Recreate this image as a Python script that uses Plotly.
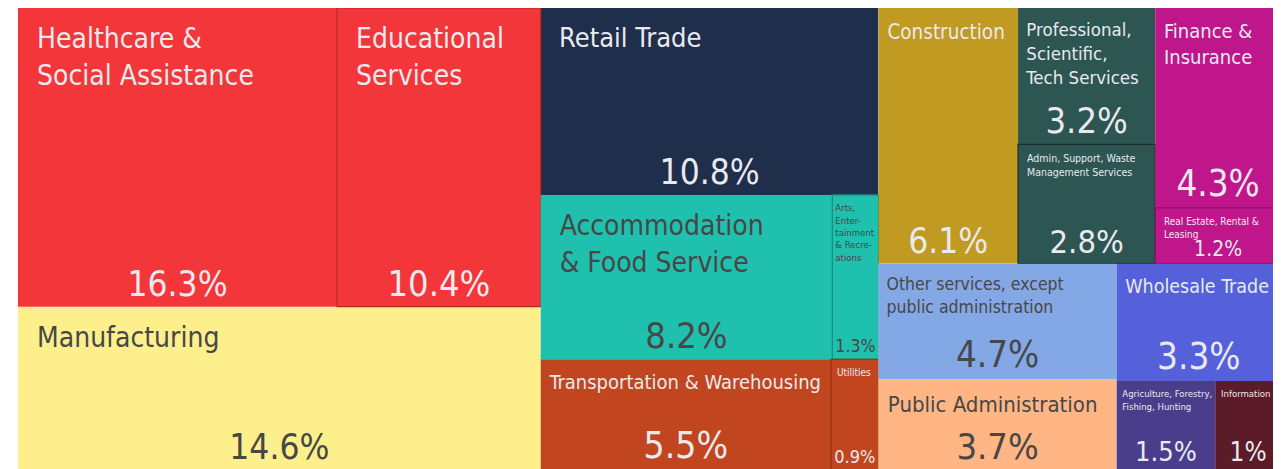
import plotly.graph_objects as go

# ---------------- data ----------------
sectors = [
    "Healthcare & Social Assistance", "Educational Services", "Manufacturing",
    "Retail Trade", "Accommodation & Food Service", "Arts, Entertainment & Recreations",
    "Transportation & Warehousing", "Utilities", "Construction",
    "Professional, Scientific, Tech Services", "Admin, Support, Waste Management Services",
    "Finance & Insurance", "Real Estate, Rental & Leasing",
    "Other services, except public administration", "Public Administration",
    "Wholesale Trade", "Agriculture, Forestry, Fishing, Hunting", "Information",
]
shares = [16.3, 10.4, 14.6, 10.8, 8.2, 1.3, 5.5, 0.9, 6.1,
          3.2, 2.8, 4.3, 1.2, 4.7, 3.7, 3.3, 1.5, 1.0]
tile_labels = [
    "Healthcare &<br>Social Assistance", "Educational<br>Services", "Manufacturing",
    "Retail Trade", "Accommodation<br>& Food Service", "Arts,<br>Enter-<br>tainment<br>& Recre-<br>ations",
    "Transportation & Warehousing", "Utilities", "Construction",
    "Professional,<br>Scientific,<br>Tech Services", "Admin, Support, Waste<br>Management Services",
    "Finance &<br>Insurance", "Real Estate, Rental &<br>Leasing",
    "Other services, except<br>public administration", "Public Administration",
    "Wholesale Trade", "Agriculture, Forestry,<br>Fishing, Hunting", "Information",
]

# grouping used to arrange the tiles (indices into sectors)
tree = ("all", [
    ("L", [("LT", [0, 1]), 2]),
    ("M", [3, ("MM", [4, 5]), ("MB", [6, 7])]),
    ("R", [("RT", [8, ("RTP", [9, 10]), ("RTF", [11, 12])]),
           ("RB", [("RBO", [13, 14]), ("RBW", [15, ("RBWA", [16, 17])])])]),
])

# ---------------- styles ----------------
tile_colors = ["#F3363A", "#F3363A", "#FCEF8C", "#1F2E4B", "#20C0AE", "#20C0AE",
               "#C1461F", "#C1461F", "#C19A21", "#2D5653", "#2D5653", "#C0168C",
               "#C0168C", "#84A8E6", "#FFB584", "#5461DB", "#4A3E8C", "#5B1B28"]
# thin darker divider drawn on the second tile of same-coloured pairs
divider = {1: "#B8262B", 5: "#138A7D", 7: "#93300F", 10: "#17302D", 12: "#8A0E66"}
LIGHT, DARK = "#E9E9EE", "#474747"
dark_text = {2, 4, 5, 13, 14}
label_sizes = [28, 28, 28, 27, 28, 9.5, 20, 10, 20.5, 18.5, 10.5, 20, 10, 17.5, 22, 19.5, 9.5, 9.5]
pct_sizes = [35, 36, 35, 35, 36, 18, 37, 18, 35, 36, 32.5, 36.5, 21, 36.5, 36, 36.5, 27, 26]
left_pad = [2, 2, 2, 2, 2, 0, 1, 1, 1, 1, 2, 1, 2, 1, 1, 1, 1, 1]

FONT = "DejaVu Sans Condensed, DejaVu Sans, sans-serif"

ids, parents, values, lab_txt, pct_txt = [], [], [], [], []
colors, tcolors, lsize, psize, lcol, lwid = [], [], [], [], [], []


def walk(node, parent):
    if isinstance(node, tuple):
        gid, kids = node
        ids.append(gid); parents.append(parent); values.append(0)
        lab_txt.append(""); pct_txt.append("")
        colors.append("#FFFFFF"); tcolors.append(LIGHT)
        lsize.append(10); psize.append(10)
        lcol.append("rgba(0,0,0,0)"); lwid.append(0)
        for k in kids:
            walk(k, gid)
    else:
        i = node
        ids.append(sectors[i]); parents.append(parent); values.append(shares[i])
        pad = "\u00a0" * left_pad[i]
        lines = tile_labels[i].split("<br>")
        lab_txt.append('<span style="font-size:1px">\u00a0</span><br>'
                       + "<br>".join(pad + ln for ln in lines))
        pct_txt.append(f"{shares[i]:g}%")
        colors.append(tile_colors[i])
        tcolors.append(DARK if i in dark_text else LIGHT)
        lsize.append(label_sizes[i]); psize.append(pct_sizes[i])
        lcol.append(divider.get(i, "rgba(0,0,0,0)"))
        lwid.append(1.2 if i in divider else 0)


walk(tree, "")

common = dict(
    ids=ids, parents=parents, values=values, branchvalues="remainder",
    sort=False, tiling=dict(packing="slice-dice", pad=0),
    pathbar=dict(visible=False), hoverinfo="none",
    texttemplate="%{text}",
)

fig = go.Figure()
fig.add_trace(go.Treemap(
    labels=ids, text=lab_txt, textposition="top left",
    marker=dict(colors=colors, line=dict(width=lwid, color=lcol),
                pad=dict(t=0, l=0, r=0, b=0), depthfade=False),
    textfont=dict(family=FONT, size=lsize, color=tcolors),
    **common,
))
fig.add_trace(go.Treemap(
    labels=ids, text=pct_txt, textposition="bottom center",
    marker=dict(colors=["rgba(0,0,0,0)"] * len(ids), line=dict(width=0),
                pad=dict(t=0, l=0, r=0, b=0), depthfade=False),
    textfont=dict(family=FONT, size=psize, color=tcolors),
    **common,
))

fig.update_layout(
    width=1273, height=462,
    margin=dict(l=10, r=0, t=0, b=0),
    paper_bgcolor="white", plot_bgcolor="white",
    showlegend=False,
)

fig.write_html("out.html")
